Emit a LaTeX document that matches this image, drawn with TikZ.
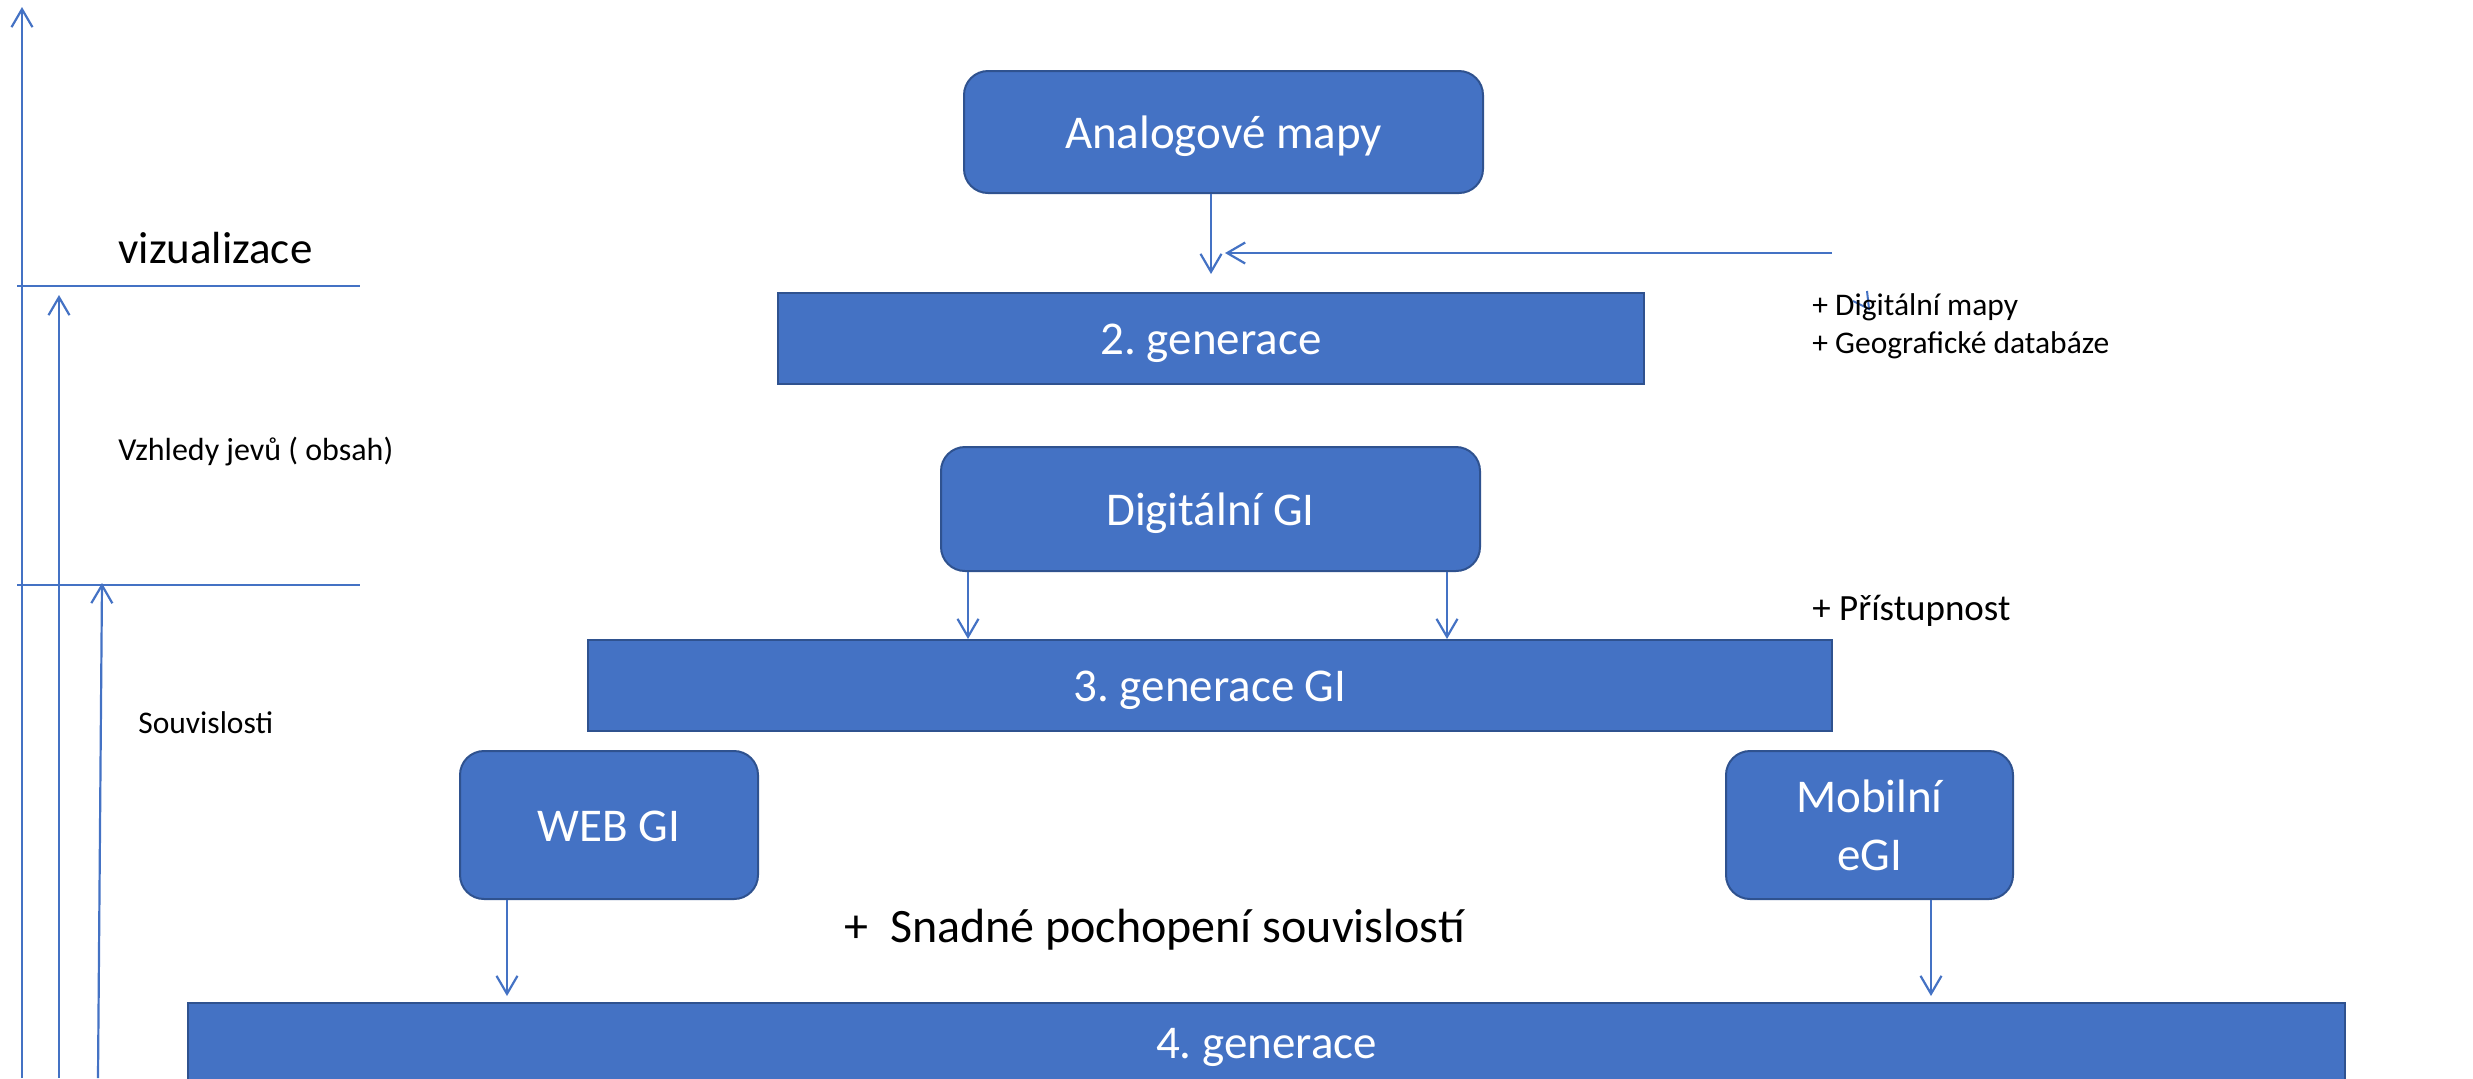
\documentclass[tikz,border=0pt]{standalone}
\usepackage{fontspec}
\setmainfont{Carlito}
\usetikzlibrary{arrows.meta}
\definecolor{boxfill}{HTML}{4472C4}
\definecolor{boxedge}{HTML}{2F528F}
\definecolor{linkblue}{HTML}{4472C4}

\begin{document}
\frenchspacing
\begin{tikzpicture}[x=0.5pt,y=-0.5pt,
  box/.style={draw=boxedge, line width=1pt, fill=boxfill, text=white, inner sep=0pt,
              font=\fontsize{23.5}{29}\selectfont},
  roundbox/.style={box, rounded corners=12pt},
  gentext/.style={text height=16pt, text depth=0pt},
  link/.style={draw=linkblue, line width=1.1pt, -{Straight Barb[length=9pt,width=10.5pt]}},
  rule/.style={draw=linkblue, line width=0.75pt},
  note/.style={anchor=base west, inner sep=0pt, text=black},
]
\useasboundingbox (0,0) rectangle (2473,1078);
\clip (0,0) rectangle (2473,1078);

% generation boxes
\node[roundbox, gentext, minimum width=259.5pt, minimum height=61pt] (ana) at (1223.5,132) {Analogové mapy};
\node[box, gentext, minimum width=433pt, minimum height=45.5pt] (gen2) at (1211,338.5) {2. generace};
\node[roundbox, gentext, minimum width=269.5pt, minimum height=62pt] (dgi) at (1210.5,509) {Digitální GI};
\node[box, gentext, minimum width=622pt, minimum height=45.5pt] (gen3) at (1210,685.5) {3. generace GI};
\node[roundbox, gentext, minimum width=149pt, minimum height=74pt] (web) at (609,825) {WEB GI};
\node[roundbox, align=center, minimum width=143.5pt, minimum height=74pt] (mob) at (1869.5,825) {Mobilní\\eGI};
\node[box, gentext, minimum width=1078.5pt, minimum height=39pt] (gen4) at (1266.5,1042) {4. generace};

% flow between the generations
\draw[link] (ana.south -| gen2.north) -- ([yshift=9pt]gen2.north);
\coordinate (feed) at (1832,253);
\coordinate (feedend) at (1225,253);
\draw[link] (feed) -- (feedend);
\draw[link] ([xshift=14pt]dgi.south west) -- ([xshift=14pt]dgi.south west |- gen3.north);
\draw[link] ([xshift=-17pt]dgi.south east) -- ([xshift=-17pt]dgi.south east |- gen3.north);
\draw[link] ([xshift=24pt]web.south west) -- ([xshift=24pt,yshift=3pt]web.south west |- gen4.north);
\draw[link] ([xshift=103pt]mob.south west) -- ([xshift=103pt,yshift=3pt]mob.south west |- gen4.north);

% small stray tick beside the added items
\coordinate (tickA) at (1867,291);
\coordinate (tickB) at (1869,309);
\coordinate (tickC) at (1853,301);
\draw[draw=linkblue, line width=1pt] (tickA) -- (tickB) -- (tickC);

% axis of levels on the left
\coordinate (axA0) at (22,1078);  \coordinate (axA1) at (22,7);
\coordinate (axB0) at (59,1078);  \coordinate (axB1) at (59,295);
\coordinate (axC0) at (98,1078);  \coordinate (axC1) at (102,583);
\draw[link] (axA0) -- (axA1);
\draw[link] (axB0) -- (axB1);
\draw[link] (axC0) -- (axC1);
\coordinate (ruleA0) at (17,286);  \coordinate (ruleA1) at (360,286);
\coordinate (ruleB0) at (17,585);  \coordinate (ruleB1) at (360,585);
\draw[rule] (ruleA0) -- (ruleA1);
\draw[rule] (ruleB0) -- (ruleB1);

% labels
\node[note, font=\fontsize{22.5}{27}\selectfont] (viz) at (118,263) {vizualizace};
\node[note, font=\fontsize{16}{19}\selectfont] (vzh) at (118,460) {Vzhledy jevů ( obsah)};
\node[note, font=\fontsize{15.75}{19}\selectfont] (souv) at (138,733) {Souvislosti};
\node[note, font=\fontsize{15.75}{19}\selectfont] (dm) at (1812,315) {+ Digitální mapy};
\node[note, font=\fontsize{15.75}{19}\selectfont] (gdb) at (1812,353) {+ Geografické databáze};
\node[note, font=\fontsize{18.5}{22}\selectfont] (pr) at (1812,620) {+ Přístupnost};
\node[note, font=\fontsize{24}{29}\selectfont] (snad) at (844,942) {+~~Snadné pochopení souvislostí};
\end{tikzpicture}
\end{document}
